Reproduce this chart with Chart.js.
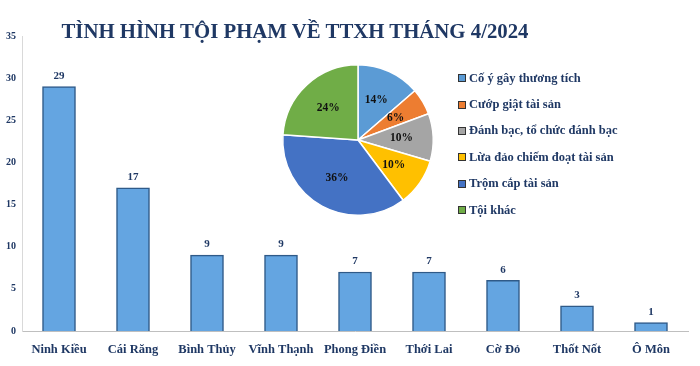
<!DOCTYPE html>
<html>
<head>
<meta charset="utf-8">
<script src="https://cdn.jsdelivr.net/npm/chart.js@4"></script>
<style>
  html, body { margin: 0; padding: 0; background: #fff; }
  #wrap { position: relative; width: 700px; height: 366px; }
  #barCanvas { position: absolute; left: 0; top: 0; }
  #pieBox { position: absolute; left: 278px; top: 60px; width: 160px; height: 160px; }
  #title {
    position: absolute; left: 0; top: 19px; width: 590px; text-align: center;
    font: bold 20.8px "Liberation Serif", "DejaVu Serif", serif; color: #1F3864;
  }
  #legend {
    position: absolute; left: 458px; top: 65px; margin: 0; padding: 0; list-style: none;
    font: bold 12.5px "Liberation Serif", serif; color: #1F3864;
  }
  #legend li { height: 26.4px; display: flex; align-items: center; }
  #legend span.sw { display: inline-block; width: 6px; height: 6px; margin-right: 3px; border: 0.5px solid #333; }
</style>
</head>
<body>
<div id="wrap">
  <canvas id="barCanvas" width="700" height="366"></canvas>
  <div id="title">TÌNH HÌNH TỘI PHẠM VỀ TTXH THÁNG 4/2024</div>
  <div id="pieBox"><canvas id="pieCanvas"></canvas></div>
  <ul id="legend"></ul>
</div>
<script>
const districts = ["Ninh Kiều", "Cái Răng", "Bình Thủy", "Vĩnh Thạnh", "Phong Điền", "Thới Lai", "Cờ Đỏ", "Thốt Nốt", "Ô Môn"];
const caseCounts = [29, 17, 9, 9, 7, 7, 6, 3, 1];

const crimeTypes = ["Cố ý gây thương tích", "Cướp giật tài sản", "Đánh bạc, tổ chức đánh bạc", "Lừa đảo chiếm đoạt tài sản", "Trộm cắp tài sản", "Tội khác"];
const crimeCounts = [12, 5, 9, 9, 32, 21];
const crimeColors = ["#5B9BD5", "#ED7D31", "#A5A5A5", "#FFC000", "#4472C4", "#70AD47"];

const navy = "#1F3864";
const serif = "'Liberation Serif', 'DejaVu Serif', serif";

// numbers above each bar
const barLabels = {
  id: "barLabels",
  afterDatasetsDraw(chart) {
    const ctx = chart.ctx;
    const meta = chart.getDatasetMeta(0);
    ctx.save();
    ctx.font = "bold 11px " + serif;
    ctx.fillStyle = navy;
    ctx.textAlign = "center";
    ctx.textBaseline = "bottom";
    meta.data.forEach((bar, i) => {
      ctx.fillText(caseCounts[i], bar.x, bar.y - 5);
    });
    ctx.restore();
  }
};

// percentages inside the slices
const pieLabels = {
  id: "pieLabels",
  afterDatasetsDraw(chart) {
    const ctx = chart.ctx;
    const meta = chart.getDatasetMeta(0);
    const total = crimeCounts.reduce((a, b) => a + b, 0);
    ctx.save();
    ctx.font = "bold 11.5px " + serif;
    ctx.fillStyle = "#111";
    ctx.textAlign = "center";
    ctx.textBaseline = "middle";
    meta.data.forEach((arc, i) => {
      const mid = (arc.startAngle + arc.endAngle) / 2;
      const r = arc.outerRadius * 0.58;
      const x = arc.x + Math.cos(mid) * r;
      const y = arc.y + Math.sin(mid) * r;
      ctx.fillText(Math.round(crimeCounts[i] / total * 100) + "%", x, y);
    });
    ctx.restore();
  }
};

new Chart(document.getElementById("barCanvas"), {
  type: "bar",
  data: {
    labels: districts,
    datasets: [{
      data: caseCounts,
      backgroundColor: "#64A5E1",
      borderColor: "#2F5A88",
      borderWidth: 1.5,
      barThickness: 33
    }]
  },
  options: {
    responsive: false,
    animation: false,
    layout: { padding: { top: 36, right: 12, left: 0, bottom: 6 } },
    plugins: { legend: { display: false }, tooltip: { enabled: false } },
    scales: {
      x: {
        grid: { display: false },
        border: { color: "#BFBFBF" },
        ticks: { color: navy, font: { family: serif, size: 12.5, weight: "bold" }, maxRotation: 0 }
      },
      y: {
        min: 0, max: 35,
        grid: { display: false, drawTicks: false },
        border: { color: "#D9D9D9" },
        afterFit(scale) { scale.width = 22; },
        ticks: { stepSize: 5, color: navy, padding: 6, font: { family: serif, size: 10, weight: "bold" } }
      }
    }
  },
  plugins: [barLabels]
});

new Chart(document.getElementById("pieCanvas"), {
  type: "pie",
  data: {
    labels: crimeTypes,
    datasets: [{
      data: crimeCounts,
      backgroundColor: crimeColors,
      borderColor: "#ffffff",
      borderWidth: 1.5
    }]
  },
  options: {
    responsive: true,
    maintainAspectRatio: false,
    animation: false,
    layout: { padding: 4 },
    plugins: { legend: { display: false }, tooltip: { enabled: false } }
  },
  plugins: [pieLabels]
});

const legend = document.getElementById("legend");
crimeTypes.forEach((name, i) => {
  const li = document.createElement("li");
  li.innerHTML = '<span class="sw" style="background:' + crimeColors[i] + '"></span>' + name;
  legend.appendChild(li);
});
</script>
</body>
</html>
